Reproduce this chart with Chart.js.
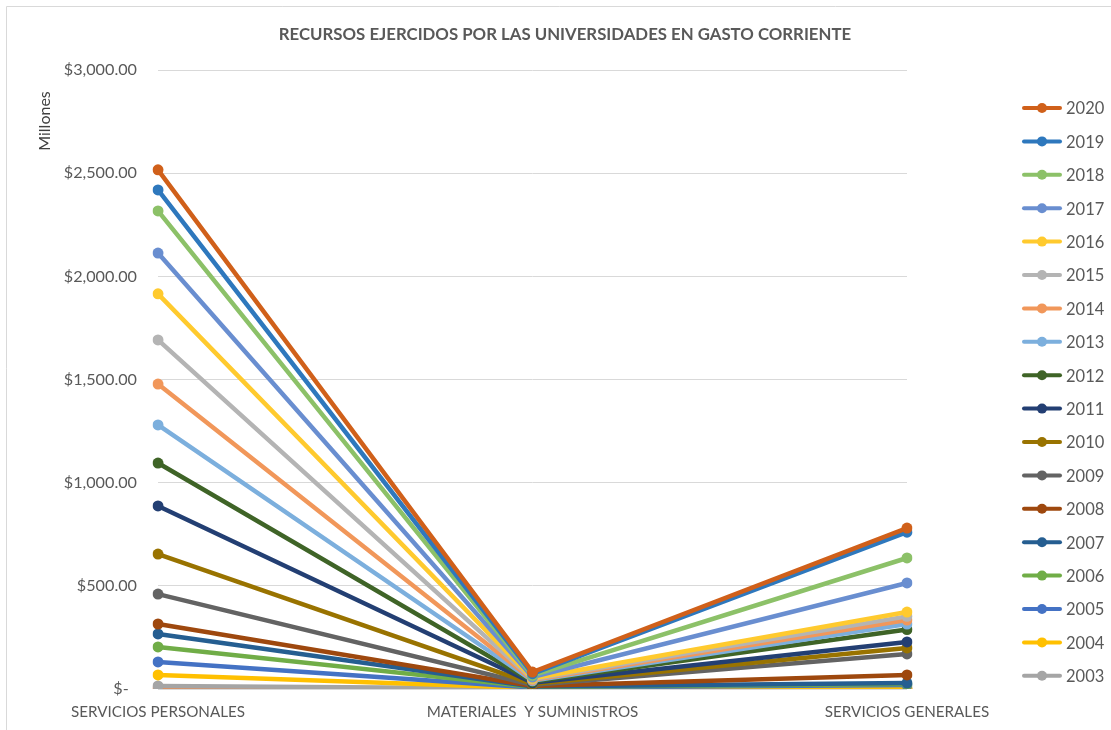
<!DOCTYPE html>
<html lang="es">
<head>
<meta charset="utf-8">
<title>Recursos ejercidos por las universidades en gasto corriente</title>
<script src="https://cdn.jsdelivr.net/npm/chart.js@4/dist/chart.umd.min.js"></script>
<style>
  html, body { margin: 0; padding: 0; background: #fff; }
  #wrap { position: relative; width: 1111px; height: 730px; }
</style>
</head>
<body>
<div id="wrap"><canvas id="grafica" width="1111" height="730"></canvas></div>
<script>
// Conceptos de gasto corriente (eje X)
const conceptos = ['SERVICIOS PERSONALES', 'MATERIALES  Y SUMINISTROS', 'SERVICIOS GENERALES'];

// Años, del más reciente al más antiguo (orden de la leyenda)
const anios = ['2020', '2019', '2018', '2017', '2016', '2015', '2014', '2013', '2012',
               '2011', '2010', '2009', '2008', '2007', '2006', '2005', '2004', '2003', '2002'];

// Millones de pesos por concepto: [personales, materiales, generales]
const g2020 = [2516, 82, 780];
const g2019 = [2419, 74, 760];
const g2018 = [2317, 66, 635];
const g2017 = [2113, 58, 514];
const g2016 = [1915, 52, 373];
const g2015 = [1692, 48, 352];
const g2014 = [1478, 44, 334];
const g2013 = [1280, 40, 315];
const g2012 = [1095, 35, 288];
const g2011 = [887, 30, 228];
const g2010 = [654, 25, 199];
const g2009 = [460, 20, 170];
const g2008 = [315, 15, 68];
const g2007 = [267, 12, 29];
const g2006 = [204, 10, 24];
const g2005 = [131, 7, 19];
const g2004 = [68, 5, 4];
const g2003 = [15, 3, 2];
const g2002 = [2, 1, 1];

const series = [g2020, g2019, g2018, g2017, g2016, g2015, g2014, g2013, g2012,
                g2011, g2010, g2009, g2008, g2007, g2006, g2005, g2004, g2003, g2002];

const colores = ['#D0601A', '#2E78BD', '#8CC168', '#698ED0', '#FFCA2E', '#B4B4B4', '#F1975A',
                 '#7CAFDD', '#3F6427', '#233F73', '#997300', '#636363', '#9E480E', '#255E91',
                 '#70AD47', '#4472C4', '#FFC000', '#A5A5A5', '#EE8A4C'];

// La leyenda sólo muestra de 2020 a 2003
const enLeyenda = 18;

const GRIS_TEXTO = '#595959';
const FUENTE = 'Lato, "Open Sans", sans-serif';

function formatoPesos(v) {
  if (v === 0) return '$-  ';
  return '$' + v.toLocaleString('en-US', { minimumFractionDigits: 2, maximumFractionDigits: 2 });
}

// Título, rótulo de unidades, marco y leyenda con muestra de línea
const decorado = {
  id: 'decorado',
  afterDraw(chart) {
    const ctx = chart.ctx;
    ctx.save();

    ctx.strokeStyle = '#d9d9d9';
    ctx.lineWidth = 1;
    ctx.beginPath();
    ctx.moveTo(6.5, 740);
    ctx.lineTo(6.5, 6.5);
    ctx.lineTo(1120, 6.5);
    ctx.stroke();

    ctx.fillStyle = GRIS_TEXTO;
    ctx.font = 'bold 16.8px ' + FUENTE;
    ctx.textAlign = 'center';
    ctx.textBaseline = 'middle';
    ctx.fillText('RECURSOS EJERCIDOS POR LAS UNIVERSIDADES EN GASTO CORRIENTE', 565, 35);

    ctx.save();
    ctx.translate(45, 121);
    ctx.rotate(-Math.PI / 2);
    ctx.font = '16px ' + FUENTE;
    ctx.fillStyle = '#404040';
    ctx.fillText('Millones', 0, 0);
    ctx.restore();

    const sets = chart.data.datasets.slice(0, enLeyenda);
    sets.forEach((ds, i) => {
      const y = 108 + i * 33.4;
      ctx.strokeStyle = ds.borderColor;
      ctx.lineWidth = 4;
      ctx.lineCap = 'round';
      ctx.beginPath();
      ctx.moveTo(1024, y);
      ctx.lineTo(1060, y);
      ctx.stroke();
      ctx.fillStyle = ds.borderColor;
      ctx.beginPath();
      ctx.arc(1042, y, 5, 0, Math.PI * 2);
      ctx.fill();
      ctx.fillStyle = GRIS_TEXTO;
      ctx.font = '16.5px ' + FUENTE;
      ctx.textAlign = 'left';
      ctx.fillText(ds.label, 1066, y + 1);
    });

    ctx.restore();
  }
};

new Chart(document.getElementById('grafica'), {
  type: 'line',
  data: {
    labels: conceptos,
    datasets: series.map((valores, i) => ({
      label: anios[i],
      data: valores,
      borderColor: colores[i],
      backgroundColor: colores[i],
      borderWidth: 4.5,
      pointRadius: 5.5,
      pointHoverRadius: 5.5,
      pointBorderWidth: 0,
      tension: 0
    }))
  },
  options: {
    responsive: false,
    animation: false,
    layout: { padding: { top: 70, left: 0, right: 204, bottom: 0 } },
    plugins: {
      legend: { display: false },
      title: { display: false },
      tooltip: { enabled: false }
    },
    scales: {
      x: {
        offset: false,
        grid: { display: false, drawTicks: false },
        border: { display: false },
        ticks: {
          color: GRIS_TEXTO,
          font: { family: FUENTE, size: 15.2 },
          padding: 14,
          maxRotation: 0,
          autoSkip: false
        },
        afterFit(scale) { scale.height = 41; }
      },
      y: {
        min: 0,
        max: 3000,
        grid: { color: '#d9d9d9', lineWidth: 1, drawTicks: false },
        border: { display: false },
        ticks: {
          stepSize: 500,
          color: GRIS_TEXTO,
          font: { family: FUENTE, size: 16.2 },
          padding: 21,
          callback: v => formatoPesos(v)
        },
        afterFit(scale) { scale.width = 158; }
      }
    }
  },
  plugins: [decorado]
});
</script>
</body>
</html>
